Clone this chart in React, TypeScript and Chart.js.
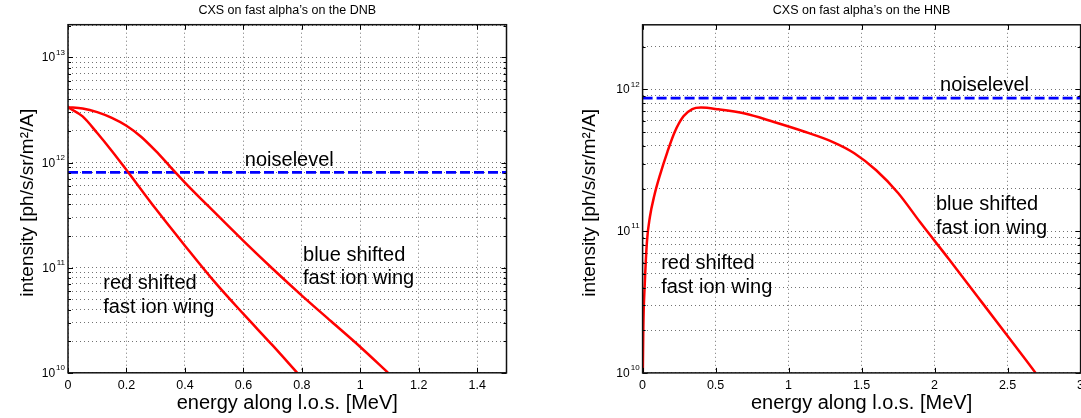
import React, { useEffect, useRef } from 'react';
import { Chart, registerables } from 'chart.js';

Chart.register(...registerables);

const FONT = '"Liberation Sans", Arial, Helvetica, sans-serif';

// ---------------- shared texts ----------------
const X_LABEL = 'energy along l.o.s. [MeV]';
const Y_LABEL = 'intensity [ph/s/sr/m²/A]';

// ---------------- DNB panel data ----------------
const DNB_TITLE = 'CXS on fast alpha’s on the DNB';
const DNB_X_TICKS = [0, 0.2, 0.4, 0.6, 0.8, 1, 1.2, 1.4];
const DNB_Y_EXPONENTS = [10, 11, 12, 13];
const DNB_RED_X = [0, 0.05, 0.1, 0.15, 0.2, 0.3, 0.4, 0.5, 0.6, 0.7, 0.784];
const DNB_RED_Y = [3.36e12, 2.75e12, 1.91e12, 1.29e12, 8.51e11, 3.63e11, 1.62e11, 7.41e10, 3.63e10, 1.82e10, 1.0e10];
const DNB_BLUE_X = [0, 0.05, 0.1, 0.15, 0.2, 0.25, 0.3, 0.35, 0.4, 0.5, 0.6, 0.7, 0.8, 0.9, 1.0, 1.095];
const DNB_BLUE_Y = [3.36e12, 3.27e12, 3.02e12, 2.66e12, 2.24e12, 1.76e12, 1.29e12, 9.12e11, 6.46e11, 3.39e11, 1.8e11, 9.77e10, 5.43e10, 3.09e10, 1.76e10, 1.0e10];
const DNB_NOISE = 8.07e11;

// ---------------- HNB panel data ----------------
const HNB_TITLE = 'CXS on fast alpha’s on the HNB';
const HNB_X_TICKS = [0, 0.5, 1, 1.5, 2, 2.5, 3];
const HNB_Y_EXPONENTS = [10, 11, 12];
const HNB_X = [0.001, 0.005, 0.015, 0.03, 0.05, 0.08, 0.12, 0.17, 0.22, 0.28, 0.34, 0.4, 0.52, 0.7, 0.9, 1.1, 1.3, 1.45, 1.6, 1.75, 1.9, 2.1, 2.3, 2.5, 2.692];
const HNB_Y = [8.91e9, 2.09e10, 4.27e10, 8.51e10, 1.26e11, 1.78e11, 2.51e11, 3.63e11, 5.01e11, 6.46e11, 7.28e11, 7.45e11, 7.24e11, 6.76e11, 5.89e11, 5.07e11, 4.27e11, 3.55e11, 2.69e11, 1.86e11, 1.16e11, 6.31e10, 3.39e10, 1.82e10, 1.0e10];
const HNB_NOISE = 8.69e11;

type Note = { lines: string[]; x: number; y: number };
type PanelCfg = {
  left: number;
  width: number;
  padding: { left: number; right: number; top: number; bottom: number };
  xMax: number;
  yMin: number;
  yMax: number;
  xTicks: number[];
  yExps: number[];
  curves: { x: number[]; y: number[] }[];
  noise: number;
  title: string;
  yTitleX: number;
  notes: Note[];
};

const PANELS: PanelCfg[] = [
  {
    left: 0,
    width: 540,
    padding: { left: 68, right: 33.5, top: 24.7, bottom: 45.2 },
    xMax: 1.5,
    yMin: 1e10,
    yMax: 2.05e13,
    xTicks: DNB_X_TICKS,
    yExps: DNB_Y_EXPONENTS,
    curves: [
      { x: DNB_RED_X, y: DNB_RED_Y },
      { x: DNB_BLUE_X, y: DNB_BLUE_Y },
    ],
    noise: DNB_NOISE,
    title: DNB_TITLE,
    yTitleX: 33,
    notes: [
      { lines: ['noiselevel'], x: 0.605, y: 9.27e11 },
      { lines: ['red shifted', 'fast ion wing'], x: 0.1206, y: 6.24e10 },
      { lines: ['blue shifted', 'fast ion wing'], x: 0.804, y: 1.16e11 },
    ],
  },
  {
    left: 540,
    width: 541,
    padding: { left: 102.6, right: 0.4, top: 24.8, bottom: 45.1 },
    xMax: 3,
    yMin: 1e10,
    yMax: 2.86e12,
    xTicks: HNB_X_TICKS,
    yExps: HNB_Y_EXPONENTS,
    curves: [{ x: HNB_X, y: HNB_Y }],
    noise: HNB_NOISE,
    title: HNB_TITLE,
    yTitleX: 55.1,
    notes: [
      { lines: ['noiselevel'], x: 2.037, y: 9.73e11 },
      { lines: ['blue shifted', 'fast ion wing'], x: 2.009, y: 1.4e11 },
      { lines: ['red shifted', 'fast ion wing'], x: 0.127, y: 5.37e10 },
    ],
  },
];

function logTicks(min: number, max: number) {
  const out: { value: number }[] = [];
  const e0 = Math.floor(Math.log10(min));
  const e1 = Math.ceil(Math.log10(max));
  for (let e = e0; e <= e1; e++) {
    for (let m = 1; m <= 9; m++) {
      const v = m * Math.pow(10, e);
      if (v >= min * 0.999 && v <= max * 1.001) out.push({ value: v });
    }
  }
  return out;
}

function isDecade(v: number) {
  const l = Math.log10(v);
  return Math.abs(l - Math.round(l)) < 1e-6;
}

function decorPlugin(cfg: PanelCfg) {
  return {
    id: 'decor',
    afterDatasetsDraw(chart: any) {
      const { ctx, chartArea: a, scales } = chart;
      const xs = scales.x;
      const ys = scales.y;
      ctx.save();
      ctx.strokeStyle = '#000';
      ctx.lineWidth = 1;
      ctx.beginPath();
      cfg.xTicks.forEach((v) => {
        const px = Math.round(xs.getPixelForValue(v)) + 0.5;
        ctx.moveTo(px, a.bottom);
        ctx.lineTo(px, a.bottom - 5);
        ctx.moveTo(px, a.top);
        ctx.lineTo(px, a.top + 5);
      });
      logTicks(cfg.yMin, cfg.yMax).forEach((t) => {
        const py = Math.round(ys.getPixelForValue(t.value)) + 0.5;
        const L = isDecade(t.value) ? 5 : 3;
        ctx.moveTo(a.left, py);
        ctx.lineTo(a.left + L, py);
        ctx.moveTo(a.right, py);
        ctx.lineTo(a.right - L, py);
      });
      ctx.stroke();
      ctx.lineWidth = 1.5;
      ctx.strokeStyle = '#111';
      ctx.strokeRect(a.left, a.top, a.right - a.left, a.bottom - a.top);
      ctx.restore();
    },
    afterDraw(chart: any) {
      const { ctx, chartArea: a, scales } = chart;
      const xs = scales.x;
      const ys = scales.y;
      ctx.save();
      ctx.fillStyle = '#000';
      const cx = (a.left + a.right) / 2;

      // title
      ctx.font = `12.5px ${FONT}`;
      ctx.textAlign = 'center';
      ctx.textBaseline = 'alphabetic';
      ctx.fillText(cfg.title, cx, 13.8);

      // x tick labels
      ctx.font = `12.5px ${FONT}`;
      ctx.textAlign = 'center';
      cfg.xTicks.forEach((v) => {
        const px = xs.getPixelForValue(v);
        ctx.fillText(String(Number(v.toFixed(2))), px, a.bottom + 15.8);
      });

      // y tick labels 10^n
      cfg.yExps.forEach((e) => {
        const py = ys.getPixelForValue(Math.pow(10, e));
        ctx.textAlign = 'right';
        ctx.font = `8px ${FONT}`;
        const sup = String(e);
        const w = ctx.measureText(sup).width;
        const right = a.left - 3;
        ctx.fillText(sup, right, py - 2.7);
        ctx.font = `12px ${FONT}`;
        ctx.fillText('10', right - w - 1, py + 4);
      });

      // x axis title
      ctx.font = `20px ${FONT}`;
      ctx.textAlign = 'center';
      ctx.fillText(X_LABEL, cx, a.bottom + 35.8);

      // y axis title
      ctx.save();
      ctx.translate(cfg.yTitleX, (a.top + a.bottom) / 2 + 4);
      ctx.rotate(-Math.PI / 2);
      ctx.font = `19px ${FONT}`;
      ctx.textAlign = 'center';
      ctx.fillText(Y_LABEL, 0, 0);
      ctx.restore();

      // annotations
      ctx.font = `20px ${FONT}`;
      ctx.textAlign = 'left';
      cfg.notes.forEach((n) => {
        const px = xs.getPixelForValue(n.x);
        const py = ys.getPixelForValue(n.y);
        n.lines.forEach((s, i) => ctx.fillText(s, px, py + i * 23.4));
      });
      ctx.restore();
    },
  };
}

function Panel({ cfg }: { cfg: PanelCfg }) {
  const ref = useRef<HTMLCanvasElement>(null);
  useEffect(() => {
    const canvas = ref.current;
    if (!canvas) return;
    const datasets: any[] = cfg.curves.map((c) => ({
      data: c.x.map((x, i) => ({ x, y: c.y[i] })),
      borderColor: '#ff0000',
      borderWidth: 2.5,
      pointRadius: 0,
      fill: false,
      cubicInterpolationMode: 'monotone',
    }));
    datasets.push({
      data: [
        { x: 0, y: cfg.noise },
        { x: cfg.xMax, y: cfg.noise },
      ],
      borderColor: '#0000ff',
      borderWidth: 2.6,
      borderDash: [10, 4],
      pointRadius: 0,
      fill: false,
      tension: 0,
    });
    const chart = new Chart(canvas, {
      type: 'line',
      data: { datasets },
      options: {
        animation: false,
        responsive: false,
        devicePixelRatio: 1,
        events: [],
        layout: { padding: cfg.padding },
        plugins: {
          legend: { display: false },
          tooltip: { enabled: false },
          title: { display: false },
        },
        scales: {
          x: {
            type: 'linear',
            min: 0,
            max: cfg.xMax,
            afterBuildTicks: (scale: any) => {
              scale.ticks = cfg.xTicks.map((v) => ({ value: v }));
            },
            afterFit: (scale: any) => {
              scale.height = 0;
            },
            ticks: { display: false },
            grid: { color: 'rgba(0,0,0,0.55)', lineWidth: 1, drawTicks: false },
            border: { display: false, dash: [1, 3] },
          },
          y: {
            type: 'logarithmic',
            min: cfg.yMin,
            max: cfg.yMax,
            afterBuildTicks: (scale: any) => {
              scale.ticks = logTicks(cfg.yMin, cfg.yMax);
            },
            afterFit: (scale: any) => {
              scale.width = 0;
            },
            ticks: { display: false },
            grid: { color: 'rgba(0,0,0,0.55)', lineWidth: 1, drawTicks: false },
            border: { display: false, dash: [1, 3] },
          },
        },
      } as any,
      plugins: [decorPlugin(cfg)],
    });
    return () => chart.destroy();
  }, [cfg]);
  return (
    <canvas
      ref={ref}
      width={cfg.width}
      height={418}
      style={{ position: 'absolute', left: cfg.left, top: 0, width: cfg.width, height: 418 }}
    />
  );
}

export default function App() {
  return (
    <div style={{ position: 'absolute', left: 0, top: 0, width: 1081, height: 418, background: '#fff', overflow: 'hidden' }}>
      {PANELS.map((p, i) => (
        <Panel key={i} cfg={p} />
      ))}
    </div>
  );
}
